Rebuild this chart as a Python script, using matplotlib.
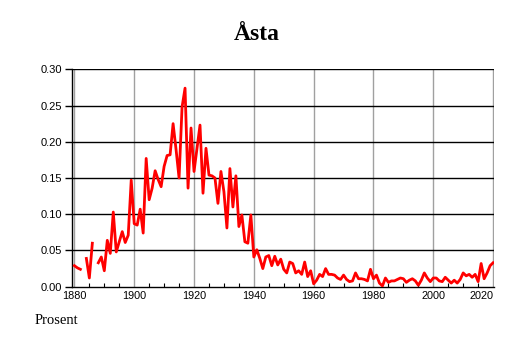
import numpy as np
import matplotlib
matplotlib.use("Agg")
import matplotlib.pyplot as plt

title = "Åsta"
ylabel_text = "Prosent"

years = list(range(1880, 2021))
values = [
    0.029, 0.026, 0.024, np.nan, 0.039, 0.012, 0.060, np.nan, 0.033, 0.041,  # 1880-1889
    0.022, 0.064, 0.046, 0.103, 0.048, 0.062, 0.076, 0.061, 0.071, 0.147,    # 1890-1899
    0.087, 0.085, 0.107, 0.074, 0.177, 0.120, 0.136, 0.160, 0.148, 0.138,    # 1900-1909
    0.166, 0.181, 0.182, 0.225, 0.189, 0.150, 0.248, 0.274, 0.136, 0.219,    # 1910-1919
    0.159, 0.191, 0.223, 0.129, 0.191, 0.154, 0.153, 0.150, 0.115, 0.159,    # 1920-1929
    0.131, 0.081, 0.163, 0.110, 0.153, 0.083, 0.099, 0.062, 0.060, 0.099,    # 1930-1939
    0.041, 0.051, 0.039, 0.025, 0.041, 0.043, 0.029, 0.042, 0.030, 0.038,    # 1940-1949
    0.024, 0.019, 0.034, 0.032, 0.019, 0.022, 0.017, 0.034, 0.014, 0.022,    # 1950-1959
    0.004, 0.009, 0.017, 0.014, 0.025, 0.017, 0.017, 0.016, 0.012, 0.010,    # 1960-1969
    0.016, 0.010, 0.007, 0.008, 0.019, 0.011, 0.011, 0.010, 0.008, 0.024,    # 1970-1979
    0.011, 0.016, 0.005, 0.001, 0.012, 0.006, 0.008, 0.008, 0.010, 0.012,    # 1980-1989
    0.011, 0.006, 0.009, 0.011, 0.008, 0.002, 0.009, 0.019, 0.012, 0.007,    # 1990-1999
    0.012, 0.012, 0.008, 0.007, 0.013, 0.009, 0.005, 0.009, 0.005, 0.010,    # 2000-2009
    0.019, 0.015, 0.017, 0.013, 0.017, 0.007, 0.032, 0.011, 0.019, 0.029,    # 2010-2019
    0.033,                                                                    # 2020
]

xticks = [1880, 1900, 1920, 1940, 1960, 1980, 2000, 2020]
yticks = [0.00, 0.05, 0.10, 0.15, 0.20, 0.25, 0.30]

W, H = 514, 343
fig = plt.figure(figsize=(W / 100, H / 100), dpi=100)
left, right, top, bottom = 72, 494, 69.3, 286.7
ax = fig.add_axes([left / W, 1 - bottom / H, (right - left) / W, (bottom - top) / H])

ax.set_xlim(1879.2, 2020.3)
ax.set_ylim(0, 0.30)

# grid
for xt in xticks:
    ax.axvline(xt, color="#a0a0a0", lw=1.0, zorder=1)
for yt in yticks[1:]:
    ax.axhline(yt, color="black", lw=1.0, zorder=1)

ax.plot(years, values, color="#ff0000", lw=2.0, zorder=3)

for s in ["top", "right"]:
    ax.spines[s].set_visible(False)
ax.spines["left"].set_linewidth(1.0)
ax.spines["bottom"].set_linewidth(1.0)

ax.set_yticks(yticks)
ax.set_yticklabels([f"{v:.2f}" for v in yticks], fontsize=8, family="Liberation Sans")
ax.tick_params(axis="y", direction="out", length=5, width=1, pad=2)

ax.set_xticks(xticks)
labels = ax.set_xticklabels([str(v) for v in xticks], fontsize=7.8, family="Liberation Sans")
labels[-1].set_horizontalalignment("right")
labels[-1].set_x(2020.3)
ax.set_xticks(list(range(1885, 2020, 5)), minor=True)
ax.tick_params(axis="x", which="major", length=0, pad=3)
ax.tick_params(axis="x", which="minor", direction="in", length=3, width=0.8)

fig.text(257 / W, 1 - 35 / H, title, ha="center", va="center",
         fontsize=17, fontweight="bold", family="Liberation Serif")
fig.text(35 / W, 1 - 320 / H, ylabel_text, ha="left", va="center",
         fontsize=10.5, family="Liberation Serif")

fig.savefig("out.png", dpi=100)
